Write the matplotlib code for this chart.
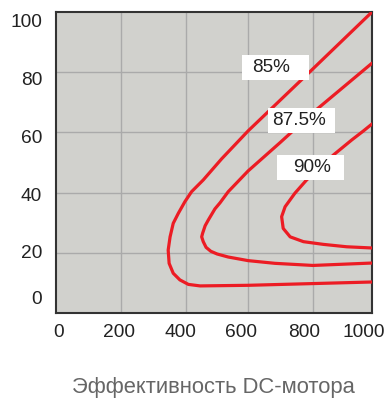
## DC motor efficiency chart
import numpy as np
import matplotlib
matplotlib.use('Agg')
from matplotlib import pyplot as plt
from matplotlib.patches import Rectangle

plt.rcParams['font.family'] = ['Liberation Sans', 'DejaVu Sans']

## curve data
eff85_x = [1000, 804, 608, 524, 466, 429, 408, 387, 371, 361, 355, 358, 371, 392, 419, 456, 608, 1000]
eff85_y = [100, 80.2, 60.5, 51.2, 44.2, 40.3, 37.0, 33.1, 29.8, 25.3, 20.9, 16.5, 13.2, 11.0, 9.5, 9.0, 9.2, 10.3]

eff875_x = [1000, 820, 709, 608, 545, 519, 503, 482, 472, 464, 461, 466, 475, 490, 510, 545, 608, 693, 813, 1000]
eff875_y = [83.0, 67.2, 56.6, 47.2, 40.3, 36.6, 34.6, 30.9, 29.0, 26.5, 25.3, 23.7, 21.8, 20.5, 19.6, 18.6, 17.4, 16.5, 15.8, 16.6]

eff90_x = [1000, 973, 936, 878, 793, 756, 725, 714, 719, 741, 783, 846, 920, 1000]
eff90_y = [62.8, 60.5, 57.5, 52.5, 44.2, 39.8, 35.3, 32.0, 28.1, 25.3, 23.7, 22.8, 22.0, 21.6]

labels = ['85%', '87.5%', '90%']
label_x = [680, 768, 809]
label_y = [81.4, 64.0, 48.3]
box_x = [588, 672, 700]
box_y = [77.4, 59.9, 44.2]

xtick_labels = ['0', '200', '400', '600', '800', '1000']
ytick_labels = ['0', '20', '40', '60', '80', '100']

fig = plt.figure(figsize=(3.88, 4.0), dpi=100)
ax = fig.add_axes([56/388, 1-313/400, 316/388, 301/400])
ax.set_facecolor('#d1d1cd')
ax.set_xlim(0, 1000)
ax.set_ylim(0, 100)

red = '#ec1c24'
for xs, ys in [(eff85_x, eff85_y), (eff875_x, eff875_y), (eff90_x, eff90_y)]:
    ax.plot(xs, ys, color=red, lw=2.3, solid_joinstyle='round', solid_capstyle='round', zorder=3)

for t, tx, ty, bx, by in zip(labels, label_x, label_y, box_x, box_y):
    ax.add_patch(Rectangle((bx, by), 212, 8.3, facecolor='white', edgecolor='none', zorder=4))
    ax.text(tx, ty, t, ha='center', va='center', fontsize=13.7, color='#222222', zorder=5)

## tick labels sit slightly off the gridlines in the original
ax.set_xticks([9, 199, 395, 587, 784, 973])
ax.set_xticklabels(xtick_labels)
ax.set_yticks([5, 20.3, 39.5, 58.5, 78, 97.3])
ax.set_yticklabels(ytick_labels)
ax.tick_params(axis='both', which='major', length=0, labelsize=13.8, labelcolor='#222222')
ax.tick_params(axis='x', pad=8)
ax.tick_params(axis='y', pad=10)

## gridlines
ax.set_xticks([206, 411, 608, 814], minor=True)
ax.set_yticks([20, 40, 60, 80], minor=True)
ax.tick_params(which='minor', length=0)
ax.grid(which='minor', color='#aaaaaa', lw=1.0, zorder=1)
ax.grid(which='major', visible=False)
ax.set_axisbelow(True)

for s in ax.spines.values():
    s.set_color('#333333')
    s.set_linewidth(1.5)

fig.text(213/388, 1-388/400, 'Эффективность DC-мотора', ha='center', va='center',
         fontsize=15.8, color='#666666')

fig.savefig('out.png', dpi=100)
